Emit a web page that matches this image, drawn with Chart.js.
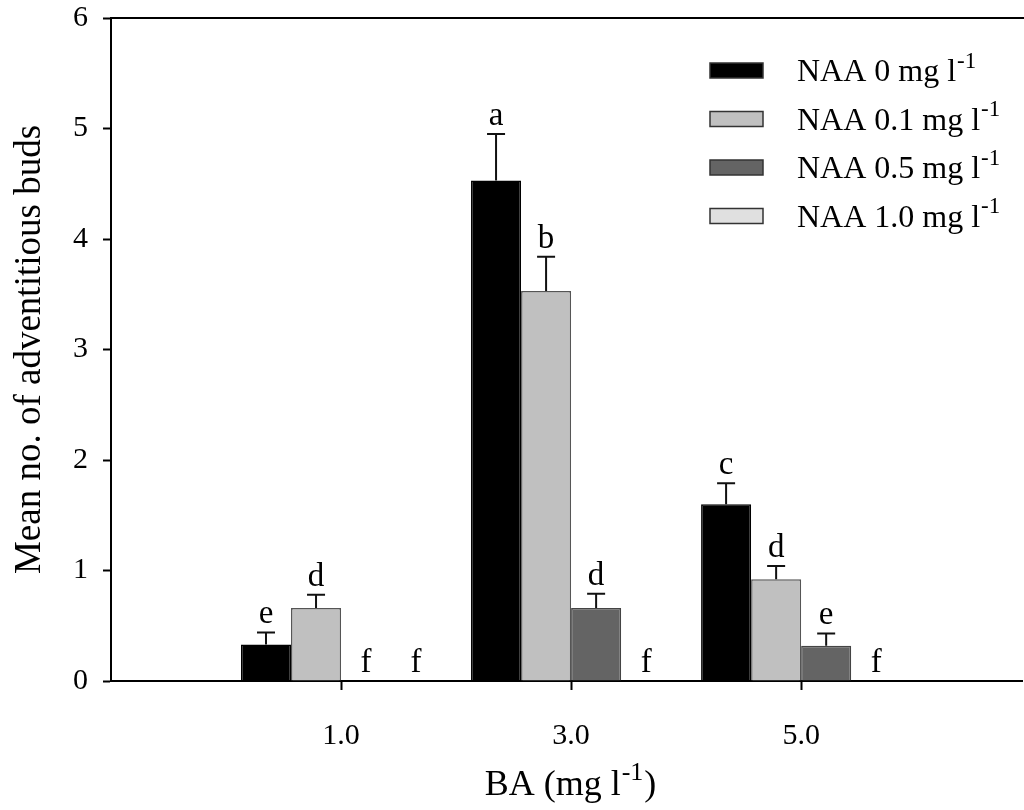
<!DOCTYPE html>
<html>
<head>
<meta charset="utf-8">
<style>
  body { margin: 0; background: #fff; }
</style>
</head>
<body>
<canvas id="chartBuds" width="1024" height="810"></canvas>
<script src="https://cdn.jsdelivr.net/npm/chart.js@4"></script>
<script>
// BA levels (mg l-1) on the x axis
const baLevels = [1, 3, 5];
// NAA concentrations, one series each
const naaLevels = ['0', '0.1', '0.5', '1.0'];

// mean no. of adventitious buds, per BA level
const budsNaa0  = [0.33, 4.53, 1.60];
const budsNaa01 = [0.66, 3.53, 0.92];
const budsNaa05 = [0, 0.66, 0.32];
const budsNaa10 = [0, 0, 0];

// standard errors (upper bars only)
const seNaa0  = [0.11, 0.42, 0.19];
const seNaa01 = [0.12, 0.31, 0.12];
const seNaa05 = [0, 0.13, 0.11];
const seNaa10 = [0, 0, 0];

// significance letters
const lettersNaa0  = ['e', 'a', 'c'];
const lettersNaa01 = ['d', 'b', 'd'];
const lettersNaa05 = ['f', 'd', 'e'];
const lettersNaa10 = ['f', 'f', 'f'];

const yTicks = [0, 1, 2, 3, 4, 5, 6];

const serif = '"Liberation Serif", "Times New Roman", serif';
const fills = ['#000000', '#c0c0c0', '#646464', '#e0e0e0'];
const edges = ['#000000', '#555555', '#444444', '#555555'];

function series(means, errs, letters, k) {
    return {
        label: 'NAA ' + naaLevels[k] + ' mg l\u207B\u00B9',
        naa: naaLevels[k],
        data: means.map((v, i) => ({ x: baLevels[i], y: v })),
        errors: errs,
        letters: letters,
        backgroundColor: fills[k],
        borderColor: edges[k],
        borderWidth: 1.5,
        categoryPercentage: 0.87,
        barPercentage: 1.0
    };
}

const datasets = [
    series(budsNaa0, seNaa0, lettersNaa0, 0),
    series(budsNaa01, seNaa01, lettersNaa01, 1),
    series(budsNaa05, seNaa05, lettersNaa05, 2),
    series(budsNaa10, seNaa10, lettersNaa10, 3)
];

// base text + raised smaller part (+ optional tail), e.g. "BA (mg l" "-1" ")"
function supText(ctx, base, sup, tail, x, y, size, align) {
    const small = Math.round(size * 0.72);
    ctx.font = size + 'px ' + serif;
    const w1 = ctx.measureText(base).width;
    const w3 = ctx.measureText(tail).width;
    ctx.font = small + 'px ' + serif;
    const w2 = ctx.measureText(sup).width;
    let x0 = x;
    if (align === 'center') x0 = x - (w1 + w2 + w3 + 2) / 2;
    ctx.textAlign = 'left';
    ctx.font = size + 'px ' + serif;
    ctx.fillText(base, x0, y);
    if (tail) ctx.fillText(tail, x0 + w1 + w2 + 2, y);
    ctx.font = small + 'px ' + serif;
    ctx.fillText(sup, x0 + w1 + 1, y - size * 0.42);
}

// error bars + letters above each bar
const errorBars = {
    id: 'errorBars',
    afterDatasetsDraw(chart) {
        const ctx = chart.ctx;
        const y = chart.scales.y;
        ctx.save();
        ctx.strokeStyle = '#111';
        ctx.lineWidth = 2;
        ctx.fillStyle = '#000';
        ctx.font = '33px ' + serif;
        ctx.textAlign = 'center';
        ctx.textBaseline = 'alphabetic';
        chart.data.datasets.forEach((ds, i) => {
            const meta = chart.getDatasetMeta(i);
            meta.data.forEach((bar, j) => {
                const v = ds.data[j].y;
                const e = ds.errors[j];
                const top = y.getPixelForValue(v + e);
                if (e > 0) {
                    ctx.beginPath();
                    ctx.moveTo(bar.x, y.getPixelForValue(v));
                    ctx.lineTo(bar.x, top);
                    ctx.moveTo(bar.x - 9, top);
                    ctx.lineTo(bar.x + 9, top);
                    ctx.stroke();
                }
                ctx.fillText(ds.letters[j], bar.x, top - 9);
            });
        });
        ctx.restore();
    }
};

// frame top line, legend and x title with superscripts
const decorations = {
    id: 'decorations',
    afterDraw(chart) {
        const ctx = chart.ctx;
        const a = chart.chartArea;
        ctx.save();
        ctx.strokeStyle = '#000';
        ctx.lineWidth = 2;
        ctx.beginPath();
        ctx.moveTo(a.left, a.top);
        ctx.lineTo(chart.width, a.top);
        ctx.stroke();

        ctx.textBaseline = 'alphabetic';
        chart.data.datasets.forEach((ds, i) => {
            const by = 63 + i * 48.5;
            ctx.fillStyle = ds.backgroundColor;
            ctx.fillRect(710, by, 53, 15);
            ctx.strokeStyle = '#333';
            ctx.lineWidth = 1.5;
            ctx.strokeRect(710, by, 53, 15);
            ctx.fillStyle = '#000';
            supText(ctx, 'NAA ' + ds.naa + ' mg l', '-1', '', 797, by + 18, 32, 'left');
        });

        supText(ctx, 'BA (mg l', '-1', ')', (a.left + a.right) / 2 + 4, 795, 36, 'center');
        ctx.restore();
    }
};

new Chart(document.getElementById('chartBuds').getContext('2d'), {
    type: 'bar',
    data: { datasets: datasets },
    options: {
        responsive: false,
        animation: false,
        layout: { padding: { top: 18, right: 2, left: 0, bottom: 0 } },
        plugins: {
            legend: { display: false },
            tooltip: { enabled: false }
        },
        scales: {
            x: {
                type: 'linear',
                min: -1,
                max: 6.92,
                offset: false,
                z: 1,
                afterBuildTicks: s => { s.ticks = baLevels.map(v => ({ value: v })); },
                afterFit: s => { s.height = 129; },
                ticks: {
                    padding: 28,
                    color: '#000',
                    font: { family: serif, size: 30 },
                    callback: v => v.toFixed(1)
                },
                grid: { display: true, offset: false, drawOnChartArea: false, tickLength: 9, tickWidth: 2, color: '#000' },
                border: { display: true, color: '#000', width: 2 },
                title: { display: false }
            },
            y: {
                min: 0,
                max: 6,
                z: 1,
                afterBuildTicks: s => { s.ticks = yTicks.map(v => ({ value: v })); },
                afterFit: s => { s.width = 111; s.paddingTop = 0; s.paddingBottom = 0; },
                ticks: {
                    padding: 15,
                    color: '#000',
                    font: { family: serif, size: 30 }
                },
                grid: { display: true, drawOnChartArea: false, tickLength: 8, tickWidth: 2, color: '#000' },
                border: { display: true, color: '#000', width: 2 },
                title: {
                    display: true,
                    text: 'Mean no. of adventitious buds',
                    color: '#000',
                    font: { family: serif, size: 37 },
                    padding: { top: 8, bottom: 0 }
                }
            }
        }
    },
    plugins: [errorBars, decorations]
});
</script>
</body>
</html>
